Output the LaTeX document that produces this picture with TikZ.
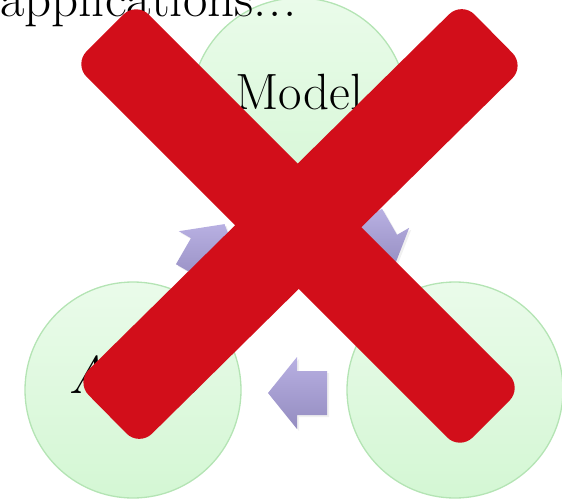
\documentclass[tikz,border=0pt]{standalone}
\usetikzlibrary{calc,shadows}
\definecolor{xred}{RGB}{210,14,26}
\definecolor{circtop}{RGB}{234,251,234}
\definecolor{circbot}{RGB}{212,247,212}
\definecolor{circline}{RGB}{180,228,180}
\definecolor{arrtop}{RGB}{184,176,226}
\definecolor{arrbot}{RGB}{148,140,192}
\tikzset{
  cyclecirc/.style={circle, minimum size=216pt, inner sep=0pt, draw=circline, line width=1.3pt,
    top color=circtop, bottom color=circbot, text height=0.69em, text depth=0pt,
    font=\fontsize{51}{57}\selectfont},
  blockarrow/.style={top color=arrtop, bottom color=arrbot, draw=none,
    drop shadow={opacity=0.12, shadow xshift=2pt, shadow yshift=-2pt}},
  crossbar/.style={fill=xred, rounded corners=18pt}
}
\begin{document}
\begin{tikzpicture}[x=1pt,y=-1pt]
\useasboundingbox (0,0) rectangle (562,503);
% circles
\node[cyclecirc] (model) at (299,106) {Model};
\node[cyclecirc, font=\fontsize{53}{59}\selectfont\itshape] (agent) at (133,390) {Agent};
\node[cyclecirc] (env) at (455,390) {};
% block arrows (clockwise cycle)
\path[blockarrow] (268,393) -- (297,357) -- (297,371) -- (327,371) -- (327,415) -- (297,415) -- (297,429) -- cycle;
\path[blockarrow] (224.5,224.1) -- (241.2,267.2) -- (229.1,260.2) -- (214.05,286.2) -- (175.95,264.2) -- (190.95,238.2) -- (178.8,231.2) -- cycle;
\path[blockarrow] (392.5,270.9) -- (346.8,263.8) -- (358.95,256.8) -- (343.95,230.8) -- (382.05,208.8) -- (397.05,234.8) -- (409.2,227.8) -- cycle;
% heading text
\node[anchor=base west, inner sep=0pt, font=\fontsize{53}{60}\selectfont] (title) at (0,17) {applications.\kern2pt.\kern2pt.};
% red cross
\begin{scope}[shift={(298,226)}, rotate=-45]
  \path[crossbar] (-273,-44) rectangle (273,44);
\end{scope}
\begin{scope}[shift={(300.5,224)}, rotate=44.6]
  \path[crossbar] (-271,-45) rectangle (271,45);
\end{scope}
\end{tikzpicture}
\end{document}
